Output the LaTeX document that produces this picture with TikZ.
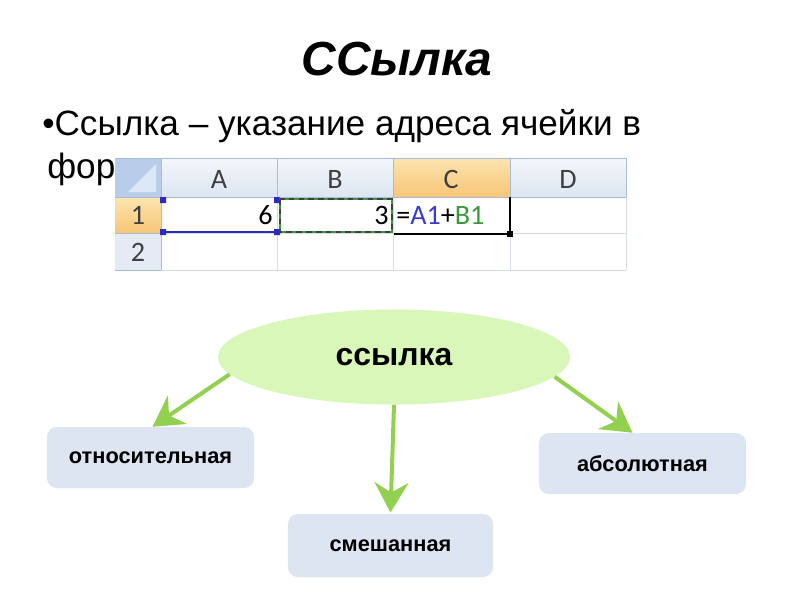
\documentclass[tikz,border=0pt]{standalone}
\usepackage{fontspec}
\setmainfont{Liberation Sans}
\newfontfamily\calib{Carlito}
\usetikzlibrary{arrows.meta,shapes.geometric,calc}
\definecolor{leaf}{HTML}{92D050}
\definecolor{ellfill}{HTML}{D9F7B9}
\definecolor{boxfill}{HTML}{DCE5F1}
\definecolor{hdrtop}{HTML}{F4F7FB}
\definecolor{hdrbot}{HTML}{DCE5F1}
\definecolor{seltop}{HTML}{FCE4B0}
\definecolor{selbot}{HTML}{F7C676}
\definecolor{rowhdr}{HTML}{E4EBF5}
\definecolor{cornerc}{HTML}{B7CDE9}
\definecolor{cornertri}{HTML}{DDE8F6}
\definecolor{gridc}{HTML}{D6DDE8}
\definecolor{hdrline}{HTML}{A9BCD5}
\definecolor{hdrtext}{HTML}{404040}
\definecolor{refblue}{HTML}{3B3BD0}
\definecolor{refgreen}{HTML}{3A9A3A}
\definecolor{selblue}{HTML}{2B2BC0}
\tikzset{
  arr/.style={draw=leaf, line width=0.1cm, -{Stealth[length=0.75cm,width=0.85cm,inset=0.25cm]}},
  catbox/.style={fill=boxfill, rounded corners=0.25cm, minimum width=5.175cm, minimum height=1.525cm, inner sep=0pt, font=\fontsize{15.5}{18}\selectfont\bfseries},
  cellfont/.style={font=\calib\fontsize{20}{24}\selectfont, inner sep=0pt},
}
\begin{document}
\begin{tikzpicture}[x=0.025cm,y=-0.025cm]
\useasboundingbox (0,0) rectangle (800,600);
\fill[white] (0,0) rectangle (800,600);

% title and bullet text
\node[anchor=base, inner sep=0pt, font=\fontsize{34}{40}\selectfont\bfseries\itshape] (title) at (397,75) {ССылка};
\node[anchor=base west, inner sep=0pt, font=\fontsize{25}{30}\selectfont] (bul) at (42,135) {•Ссылка – указание адреса ячейки в};
\node[anchor=base west, inner sep=0pt, font=\fontsize{25}{30}\selectfont] (bul2) at (47,178) {фор};

% spreadsheet
\fill[white] (115,156) rectangle (628,274);
\shade[top color=hdrtop,bottom color=hdrbot] (161,158) rectangle (626,197);
\shade[top color=seltop,bottom color=selbot] (393,158) rectangle (510,197);
\fill[rowhdr] (115,197) rectangle (161,270);
\shade[top color=seltop,bottom color=selbot] (115,197) rectangle (161,233);
\fill[cornerc] (115,158) rectangle (161,197);
\fill[cornertri] (156,164) -- (156,192) -- (128,192) -- cycle;
\draw[gridc] (161,233) -- (626,233) (161,270) -- (626,270)
  (277,197) -- (277,270) (393,197) -- (393,270) (510,197) -- (510,270) (626,197) -- (626,270);
\draw[hdrline] (115,158) -- (626,158) (115,197) -- (626,197)
  (161,158) -- (161,270) (277,158) -- (277,197) (393,158) -- (393,197) (510,158) -- (510,197) (626,158) -- (626,197)
  (115,233) -- (161,233) (115,270) -- (161,270);

\node[cellfont, text=hdrtext] (hA) at (219,179) {A};
\node[cellfont, text=hdrtext] (hB) at (335,179) {B};
\node[cellfont, text=hdrtext] (hC) at (451,179) {C};
\node[cellfont, text=hdrtext] (hD) at (568,179) {D};
\node[cellfont, text=hdrtext] (r1) at (138,215) {1};
\node[cellfont, text=hdrtext] (r2) at (138,252) {2};
\node[cellfont, anchor=east] (v6) at (273,215) {6};
\node[cellfont, anchor=east] (v3) at (389,215) {3};
\node[cellfont, anchor=west] (frm) at (396,215) {=\textcolor{refblue}{A1}+\textcolor{refgreen}{B1}};

% selections
\draw[selblue, line width=1.2] (163,232) -- (277,232);
\fill[selblue] (160,197) rectangle (166,203) (160,229) rectangle (166,235)
  (274,197) rectangle (280,203) (274,229) rectangle (280,235);
\draw[refgreen, line width=1.2] (280,199) rectangle (392,232);
\draw[black!75, line width=1.2, dash pattern=on 4 off 3] (280,199) rectangle (392,232);
\draw[black, line width=1.2] (394,234) -- (510,234) -- (510,197);
\fill[black] (507,231) rectangle (513,237);

% diagram
\node[ellipse, fill=ellfill, minimum width=8.8cm, minimum height=2.375cm, inner sep=0pt,
  font=\fontsize{22.7}{27}\selectfont\bfseries] (ell) at (394,357) {ссылка};
\node[catbox] (rel) at (150.5,457.5) {относительная};
\node[catbox, minimum width=5.125cm, minimum height=1.575cm] (mix) at (390.5,545.5) {смешанная};
\node[catbox] (abs) at (642.5,463.5) {абсолютная};

\draw[arr] (ell.186) -- ([xshift=0.05cm]rel.north);
\draw[arr] (ell.south) -- ([yshift=0.03cm]mix.north);
\draw[arr] (ell.353) -- ([xshift=-0.25cm]abs.north);
\end{tikzpicture}
\end{document}
